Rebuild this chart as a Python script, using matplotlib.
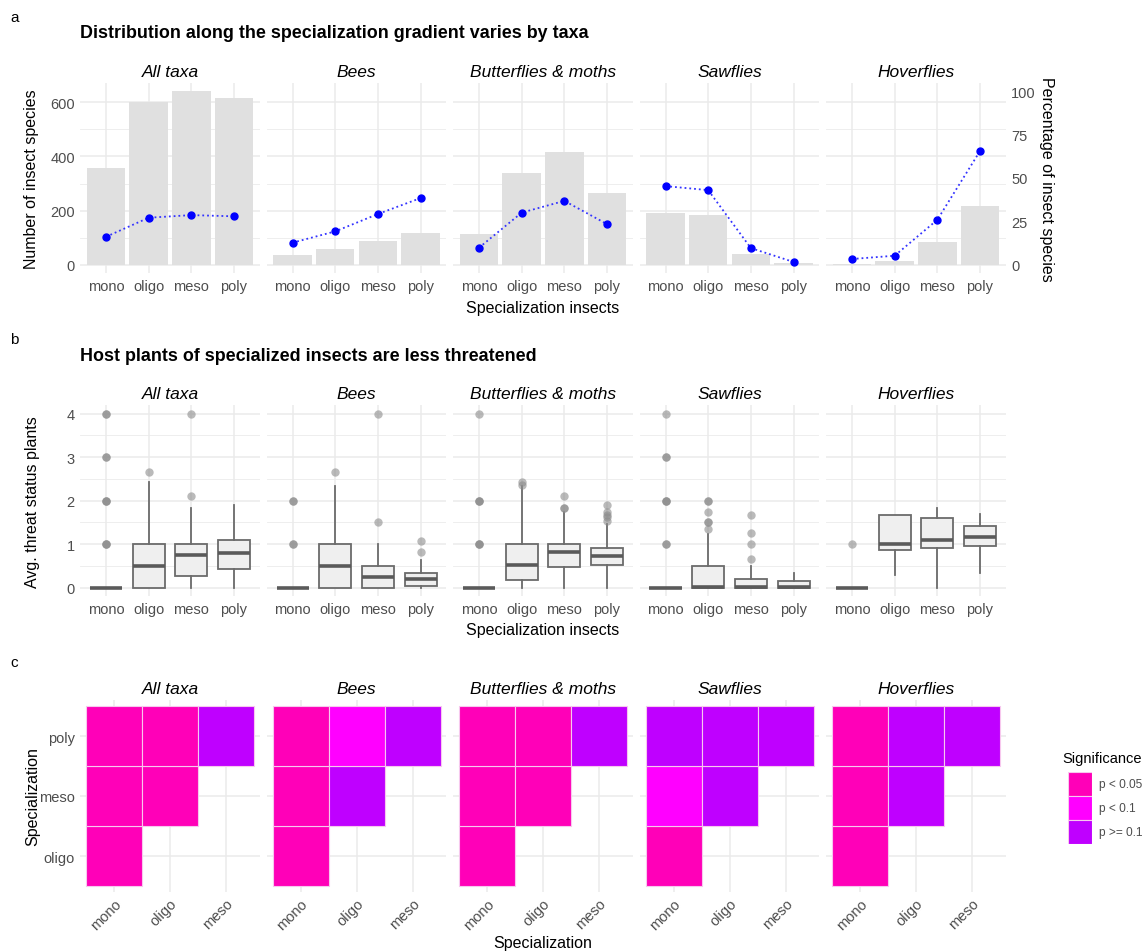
import numpy as np
import matplotlib.pyplot as plt

plt.rcParams['font.family'] = ['Liberation Sans', 'DejaVu Sans']

W, H = 1148, 953

taxa = ['All taxa', 'Bees', 'Butterflies & moths', 'Sawflies', 'Hoverflies']
spec = ['mono', 'oligo', 'meso', 'poly']

# panel a: number of species (bars) and percentage of species (dots)
counts_all = [357, 600, 640, 617]
counts_bees = [36, 58, 88, 116]
counts_lep = [112, 340, 417, 266]
counts_saw = [192, 182, 38, 5]
counts_hover = [3, 14, 84, 217]
pct_all = [16.1, 27.1, 28.6, 27.9]
pct_bees = [12.7, 19.2, 29.2, 38.4]
pct_lep = [9.8, 30.0, 36.8, 23.4]
pct_saw = [45.3, 43.0, 9.6, 1.6]
pct_hover = [3.3, 5.2, 25.9, 65.5]
PCT_SCALE = 6.41  # sec. axis: 100 % <-> 641 species

# panel b: box statistics of avg. threat status (q1, med, q3, whislo, whishi, outliers)
box_all = [
    (0, 0, 0, 0, 0, [1, 1, 1, 2, 2, 2, 3, 3, 4, 4]),
    (0, 0.5, 1.0, 0, 2.42, [2.67]),
    (0.28, 0.75, 1.0, 0, 1.83, [2.11, 4.0]),
    (0.43, 0.80, 1.10, 0, 1.89, []),
]
box_bees = [
    (0, 0, 0, 0, 0, [1, 1, 2, 2]),
    (0, 0.5, 1.0, 0, 2.33, [2.67]),
    (0, 0.24, 0.5, 0, 1.0, [1.5, 4.0]),
    (0.03, 0.21, 0.34, 0, 0.64, [0.82, 1.08]),
]
box_lep = [
    (0, 0, 0, 0, 0, [1, 1, 1, 2, 2, 2, 4]),
    (0.17, 0.53, 1.0, 0, 2.33, [2.37, 2.44]),
    (0.48, 0.81, 1.0, 0, 1.75, [1.83, 1.83, 2.11]),
    (0.53, 0.74, 0.91, 0, 1.47, [1.54, 1.62, 1.67, 1.73, 1.91]),
]
box_saw = [
    (0, 0, 0, 0, 0, [1, 1, 2, 2, 2, 3, 3, 4]),
    (0, 0.02, 0.51, 0, 1.23, [1.34, 1.5, 1.5, 1.75, 2.0, 2.0]),
    (0, 0.02, 0.21, 0, 0.51, [0.67, 1.0, 1.25, 1.67]),
    (0, 0.02, 0.16, 0, 0.33, []),
]
box_hover = [
    (0, 0, 0, 0, 0, [1.0]),
    (0.87, 1.0, 1.66, 0.30, 1.66, []),
    (0.92, 1.10, 1.61, 0, 1.83, []),
    (0.95, 1.16, 1.41, 0.34, 1.69, []),
]

# panel c: pairwise significance, 0: p < 0.05, 1: p < 0.1, 2: p >= 0.1
pair_x = ['mono', 'mono', 'oligo', 'mono', 'oligo', 'meso']
pair_y = ['oligo', 'meso', 'meso', 'poly', 'poly', 'poly']
sig_all = [0, 0, 0, 0, 0, 2]
sig_bees = [0, 0, 2, 0, 1, 2]
sig_lep = [0, 0, 0, 0, 0, 2]
sig_saw = [0, 1, 2, 2, 2, 2]
sig_hover = [0, 0, 2, 0, 2, 2]
sig_labels = ['p < 0.05', 'p < 0.1', 'p >= 0.1']
sig_colors = ['#FF00B8', '#FF00FF', '#BF00FF']

counts = [counts_all, counts_bees, counts_lep, counts_saw, counts_hover]
pcts = [pct_all, pct_bees, pct_lep, pct_saw, pct_hover]
boxes = [box_all, box_bees, box_lep, box_saw, box_hover]
sigs = [sig_all, sig_bees, sig_lep, sig_saw, sig_hover]

GRID = '#EBEBEB'
TICK = '#4D4D4D'
TILE_EDGE = '#F7C8EE'
STRIP = 12.5
AXT = 11.5
TIT = 12.9


def px_axes(fig, left, top, width, height):
    return fig.add_axes([left / W, 1 - (top + height) / H, width / W, height / H])


def style(ax, show_y):
    for s in ax.spines.values():
        s.set_visible(False)
    ax.tick_params(which='both', length=0, labelsize=10.5, labelcolor=TICK, pad=4)
    ax.grid(True, which='major', color=GRID, lw=1.1)
    ax.grid(True, which='minor', axis='y', color=GRID, lw=0.6)
    ax.set_axisbelow(True)
    if not show_y:
        ax.tick_params(axis='y', which='both', labelleft=False)


fig = plt.figure(figsize=(W / 100, H / 100), dpi=100)

lefts = [80.4 + i * 186.5 for i in range(5)]
pw = 179.2

# ---- panel a
fig.text(10 / W, 1 - 18 / H, 'a', fontsize=11, va='center')
fig.text(80 / W, 1 - 34 / H, 'Distribution along the specialization gradient varies by taxa',
         fontsize=TIT, fontweight='bold', va='center')
for i, name in enumerate(taxa):
    ax = px_axes(fig, lefts[i], 83.8, pw, 190.6)
    x = np.arange(4)
    ax.bar(x, counts[i], width=0.9, color='#E0E0E0', zorder=2)
    ax.plot(x, np.array(pcts[i]) * PCT_SCALE, ':', color='#3333FF', lw=1.3, zorder=3)
    ax.plot(x, np.array(pcts[i]) * PCT_SCALE, 'o', color='#0000FF', ms=5, zorder=4)
    ax.set_xlim(-0.6, 3.6)
    ax.set_ylim(-32, 672)
    ax.set_xticks(x)
    ax.set_xticklabels(spec)
    ax.set_yticks([0, 200, 400, 600])
    ax.set_yticks([100, 300, 500], minor=True)
    style(ax, i == 0)
    ax.set_title(name, fontsize=STRIP, style='italic', pad=5)
    if i == 0:
        ax.set_ylabel('Number of insect species', fontsize=AXT, labelpad=8)
    if i == 4:
        sec = ax.secondary_yaxis('right', functions=(lambda y: y / PCT_SCALE,
                                                     lambda p: p * PCT_SCALE))
        sec.set_yticks([0, 25, 50, 75, 100])
        for s in sec.spines.values():
            s.set_visible(False)
        sec.tick_params(length=0, labelsize=10.5, labelcolor=TICK, pad=4)
        sec.set_ylabel('Percentage of insect species', fontsize=AXT, rotation=270,
                       labelpad=13)
fig.text(543 / W, 1 - 308 / H, 'Specialization insects', fontsize=AXT,
         ha='center', va='center')

# ---- panel b
fig.text(10 / W, 1 - 340 / H, 'b', fontsize=11, va='center')
fig.text(80 / W, 1 - 357 / H, 'Host plants of specialized insects are less threatened',
         fontsize=TIT, fontweight='bold', va='center')
for i, name in enumerate(taxa):
    ax = px_axes(fig, lefts[i], 406, pw, 191.4)
    stats = []
    for q1, med, q3, lo, hi, fl in boxes[i]:
        stats.append(dict(q1=q1, med=med, q3=q3, whislo=lo, whishi=hi, fliers=fl))
    ax.bxp(stats, positions=[1, 2, 3, 4], widths=0.75, patch_artist=True,
           showcaps=False,
           boxprops=dict(facecolor='#EFEFEF', edgecolor='#6B6B6B', lw=1.3),
           medianprops=dict(color='#5A5A5A', lw=2.6, solid_capstyle='butt'),
           whiskerprops=dict(color='#6B6B6B', lw=1.3),
           flierprops=dict(marker='o', markerfacecolor='#8C8C8C', markeredgecolor='none',
                           markersize=6, alpha=0.6))
    ax.set_xlim(0.4, 4.6)
    ax.set_ylim(-0.2, 4.2)
    ax.set_xticks([1, 2, 3, 4])
    ax.set_xticklabels(spec)
    ax.set_yticks([0, 1, 2, 3, 4])
    ax.set_yticks([0.5, 1.5, 2.5, 3.5], minor=True)
    style(ax, i == 0)
    ax.set_title(name, fontsize=STRIP, style='italic', pad=5)
    if i == 0:
        ax.set_ylabel('Avg. threat status plants', fontsize=AXT, labelpad=19)
fig.text(543 / W, 1 - 631 / H, 'Specialization insects', fontsize=AXT,
         ha='center', va='center')

# ---- panel c
fig.text(10 / W, 1 - 663 / H, 'c', fontsize=11, va='center')
xcat = ['mono', 'oligo', 'meso']
ycat = ['oligo', 'meso', 'poly']
for i, name in enumerate(taxa):
    ax = px_axes(fig, lefts[i], 701, pw, 192)
    xs = [xcat.index(v) + 1 for v in pair_x]
    ys = [ycat.index(v) + 1 for v in pair_y]
    cols = [sig_colors[s] for s in sigs[i]]
    ax.bar(xs, 1, bottom=np.array(ys) - 0.5, width=1, color=cols,
           edgecolor=TILE_EDGE, lw=0.8, zorder=2)
    ax.set_xlim(0.4, 3.6)
    ax.set_ylim(0.4, 3.6)
    ax.set_xticks([1, 2, 3])
    ax.set_xticklabels(xcat, rotation=45, ha='right', va='top', rotation_mode='anchor')
    ax.set_yticks([1, 2, 3])
    ax.set_yticklabels(ycat)
    style(ax, i == 0)
    ax.grid(False, which='minor')
    ax.tick_params(axis='x', pad=3)
    ax.set_title(name, fontsize=STRIP, style='italic', pad=5)
    if i == 0:
        ax.set_ylabel('Specialization', fontsize=AXT, labelpad=-1)
fig.text(543 / W, 1 - 944 / H, 'Specialization', fontsize=AXT, ha='center', va='center')

# legend (ggplot style: touching square keys)
fig.text(1062 / W, 1 - 759 / H, 'Significance', fontsize=10.5, va='center')
lax = px_axes(fig, 1068, 773, 24, 72)
key_pos = np.arange(len(sig_labels))[::-1]
lax.barh(key_pos, 1, height=1, color=sig_colors, edgecolor=TILE_EDGE, lw=0.8)
for p, lab in zip(key_pos, sig_labels):
    lax.text(1.3, p, lab, fontsize=8.6, color=TICK, va='center', ha='left', clip_on=False)
lax.set_xlim(0, 1)
lax.set_ylim(-0.5, len(sig_labels) - 0.5)
lax.axis('off')

fig.savefig('out.png', dpi=100, facecolor='white')
